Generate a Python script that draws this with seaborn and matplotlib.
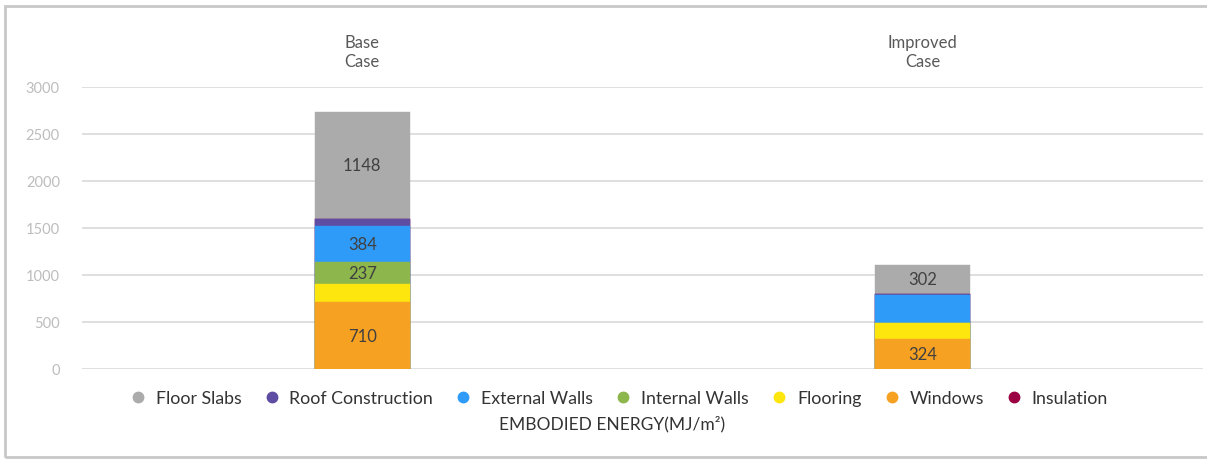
import numpy as np
import pandas as pd
import matplotlib
matplotlib.use("Agg")
import matplotlib.pyplot as plt
from matplotlib.lines import Line2D
from matplotlib.patches import Rectangle
import seaborn as sns

# Data (MJ/m2)
cases = ["Base\nCase", "Improved\nCase"]
# stacking order from the bottom up
components = ["Windows", "Flooring", "Internal Walls", "External Walls",
              "Roof Construction", "Insulation", "Floor Slabs"]
windows = [710, 324]
flooring = [195, 166]
internal_walls = [237, 0]
external_walls = [384, 295]
roof_construction = [65, 8]
insulation = [0, 10]
floor_slabs = [1148, 302]

base_labels = ["Floor Slabs", "External Walls", "Internal Walls", "Windows"]
improved_labels = ["Floor Slabs", "Windows"]

legend_order = ["Floor Slabs", "Roof Construction", "External Walls",
                "Internal Walls", "Flooring", "Windows", "Insulation"]
colors = {
    "Floor Slabs": "#ABABAB",
    "Roof Construction": "#5E4DA3",
    "External Walls": "#2F9BF8",
    "Internal Walls": "#8DB64C",
    "Flooring": "#FDE50E",
    "Windows": "#F6A122",
    "Insulation": "#9B0042",
}

values = {
    "Windows": windows, "Flooring": flooring, "Internal Walls": internal_walls,
    "External Walls": external_walls, "Roof Construction": roof_construction,
    "Insulation": insulation, "Floor Slabs": floor_slabs,
}

df = pd.DataFrame(values, index=cases)
cum = df[components].cumsum(axis=1)

sns.set_theme(style="white")
plt.rcParams["font.family"] = ["Lato", "DejaVu Sans"]

fig = plt.figure(figsize=(12.07, 4.6), dpi=100)
ax = fig.add_axes([0.068, 0.1957, 0.9287, 0.613])

# draw cumulative totals from the top layer down so each layer shows its own slice
for comp in reversed(components):
    plot_df = pd.DataFrame({"case": cases, "total": cum[comp].values})
    sns.barplot(data=plot_df, x="case", y="total", color=colors[comp],
                width=0.17, saturation=1, ax=ax, zorder=3,
                edgecolor=colors[comp], linewidth=0.3)

# value labels
label_sets = [base_labels, improved_labels]
for i, case in enumerate(cases):
    bottoms = cum.loc[case] - df.loc[case]
    for comp in label_sets[i]:
        v = df.loc[case, comp]
        ax.text(i, bottoms[comp] + v / 2, f"{v}", ha="center", va="center",
                fontsize=12, color="#404040", zorder=5)

ax.set_ylim(0, 3000)
ax.set_xlim(-0.5, 1.5)
ax.set_yticks(np.arange(0, 3001, 500))
ax.yaxis.grid(True, color="#D9D9D9", linewidth=1.2, zorder=0)
ax.xaxis.grid(False)
ax.set_axisbelow(True)
for s in ax.spines.values():
    s.set_visible(False)
ax.xaxis.tick_top()
ax.tick_params(axis="x", length=0, pad=13, labelsize=12, labelcolor="#595959")
ax.tick_params(axis="y", length=0, pad=16, labelsize=10.5, labelcolor="#BDBDBD")
ax.set_xlabel("")
ax.set_ylabel("")

handles = [Line2D([0], [0], marker="o", linestyle="", markersize=7.5,
                  markerfacecolor=colors[c], markeredgecolor=colors[c])
           for c in legend_order]
fig.legend(handles, legend_order, loc="center", bbox_to_anchor=(0.511, 0.133),
           ncol=7, frameon=False, fontsize=12.8, handletextpad=0.3,
           handlelength=1.4, columnspacing=1.0, labelcolor="#333333")
fig.text(0.507, 0.078, "EMBODIED ENERGY(MJ/m²)", ha="center", va="center",
         fontsize=12.5, color="#333333")

# outer frame
fig.patches.append(Rectangle((0.004, 0.004), 1.2, 0.98, transform=fig.transFigure,
                             fill=False, edgecolor="#C8C8C8", linewidth=2))

fig.savefig("out.png", dpi=100)
